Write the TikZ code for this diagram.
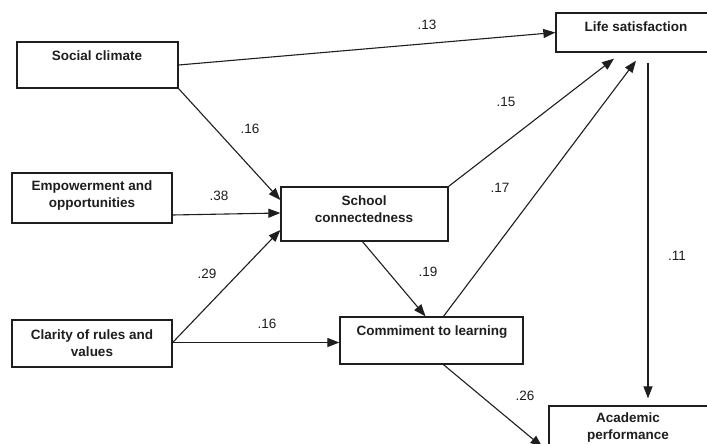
\documentclass[tikz,border=0pt]{standalone}
\usepackage{fontspec}
\setmainfont{Liberation Sans}
\usetikzlibrary{arrows.meta}
\definecolor{ink}{HTML}{1E1E1E}
\tikzset{
  boxnode/.style={draw=ink, line width=1.3pt, rectangle, inner sep=0pt},
  boxtext/.style={font=\fontsize{13.5}{17}\selectfont\bfseries, text=ink, align=center, inner sep=0pt},
  coef/.style={font=\fontsize{13.5}{16}\selectfont, text=ink, inner sep=0pt},
  arr/.style={draw=ink, line width=1.1pt, -{Triangle[length=12pt,width=9pt]}},
  plain/.style={draw=ink, line width=1.1pt}
}
\begin{document}
\begin{tikzpicture}[x=1pt,y=-1pt]
\useasboundingbox (0,0) rectangle (707,444);
\fill[white] (0,0) rectangle (707,444);
\clip (0,0) rectangle (707,444);
% boxes
\node[boxnode, minimum width=161pt, minimum height=46pt] (sc) at (97.5,65) {};
\node[boxnode, minimum width=160pt, minimum height=50pt] (em) at (92,198) {};
\node[boxnode, minimum width=167pt, minimum height=54pt] (scn) at (364.5,214) {};
\node[boxnode, minimum width=160pt, minimum height=47pt] (cl) at (92,343.5) {};
\node[boxnode, minimum width=183pt, minimum height=47pt] (cm) at (431.5,340.5) {};
\node[boxnode, minimum width=156pt, minimum height=39pt] (ls) at (634,32.5) {};
\node[boxnode, minimum width=163pt, minimum height=60pt] (ap) at (630.5,436) {};
% box texts
\node[boxtext] (sct) at (97,55.5) {Social climate};
\node[boxtext] (emt) at (92,196) {Empowerment and\\opportunities};
\node[boxtext] (scnt) at (364,209) {School\\connectedness};
\node[boxtext] (clt) at (92,343) {Clarity of rules and\\values};
\node[boxtext] (cmt) at (432,332) {Commiment to learning};
\node[boxtext] (lst) at (636,27) {Life satisfaction};
\node[boxtext] (apt) at (628,428) {Academic\\performance};
% connectors
\draw[arr] (sc.east) -- (ls.west);
\draw[arr] (sc.south east) -- ([yshift=14pt]scn.west);
\draw[arr] ([yshift=-17pt]em.east) -- ([yshift=1pt]scn.west);
\draw[arr] ([yshift=1pt]cl.east) -- ([yshift=-16pt]scn.west);
\draw[arr] ([yshift=1pt]cl.east) -- ([yshift=1pt]cl.east -| cm.west);
\draw[arr] ([xshift=-2pt]scn.south) -- ([xshift=-6pt]cm.north);
\draw[arr] (scn.north east) -- ([xshift=-20pt,yshift=-6pt]ls.south);
\draw[arr] ([xshift=12pt]cm.north) -- ([xshift=2pt,yshift=-8pt]ls.south);
\draw[arr] ([xshift=14pt,yshift=-10pt]ls.south) -- ([xshift=17.5pt,yshift=7pt]ap.north);
\draw[arr] ([xshift=12pt]cm.south) -- ([xshift=-6pt,yshift=-11pt]ap.west);
% coefficients
\node[coef] (c13) at (427,25) {.13};
\node[coef] (c16a) at (250,129) {.16};
\node[coef] (c38) at (219,196) {.38};
\node[coef] (c29) at (207,274) {.29};
\node[coef] (c16b) at (267,324) {.16};
\node[coef] (c19) at (428,272) {.19};
\node[coef] (c15) at (506,102) {.15};
\node[coef] (c17) at (500,188) {.17};
\node[coef] (c11) at (677,256) {.11};
\node[coef] (c26) at (525,396) {.26};
\end{tikzpicture}
\end{document}
